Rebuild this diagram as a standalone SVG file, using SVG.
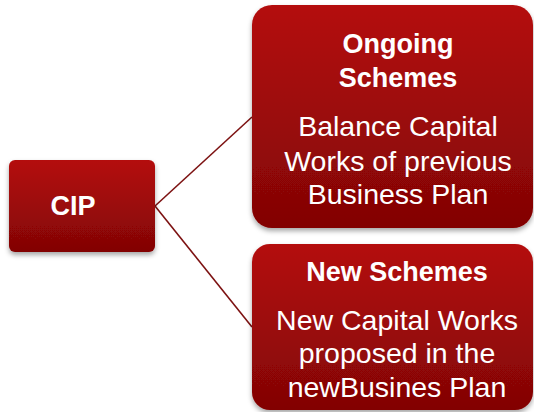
<svg xmlns="http://www.w3.org/2000/svg" width="534" height="412" viewBox="0 0 534 412">
<style>
.t{font-family:"Liberation Sans",Arial,sans-serif;fill:#ffffff;text-anchor:middle;font-size:28.5px}
.b{font-weight:bold;font-size:27px}
.c{stroke:#7d1212;stroke-width:1.6;fill:none}
</style>
<defs>
<linearGradient id="g" x1="0" y1="0" x2="0" y2="1">
<stop offset="0" stop-color="#b40c0c"/>
<stop offset="1" stop-color="#820505"/>
</linearGradient>
<filter id="sh" x="-10%" y="-10%" width="120%" height="130%">
<feDropShadow dx="0" dy="3" stdDeviation="2.5" flood-color="#000" flood-opacity="0.35"/>
</filter>
</defs>
<rect width="534" height="412" fill="#ffffff"/>
<g id="connectors">
<line class="c" x1="155" y1="206" x2="252" y2="117"/>
<line class="c" x1="155" y1="206" x2="252" y2="327"/>
</g>
<g id="cip">
<rect x="9" y="160" width="146" height="92" rx="6" fill="url(#g)" filter="url(#sh)"/>
<text class="t b" x="73" y="215">CIP</text>
</g>
<g id="ongoing">
<rect x="252" y="5" width="281" height="223" rx="20" fill="url(#g)" filter="url(#sh)"/>
<text class="t b" x="398" y="53">Ongoing</text>
<text class="t b" x="398" y="87">Schemes</text>
<text class="t" x="398" y="136">Balance Capital</text>
<text class="t" x="398" y="171">Works of previous</text>
<text class="t" x="398" y="204">Business Plan</text>
</g>
<g id="new">
<rect x="252" y="244" width="281" height="166" rx="18" fill="url(#g)" filter="url(#sh)"/>
<text class="t b" x="397" y="281">New Schemes</text>
<text class="t" x="397" y="330">New Capital Works</text>
<text class="t" x="397" y="363">proposed in the</text>
<text class="t" x="397" y="397">newBusines Plan</text>
</g>
</svg>
